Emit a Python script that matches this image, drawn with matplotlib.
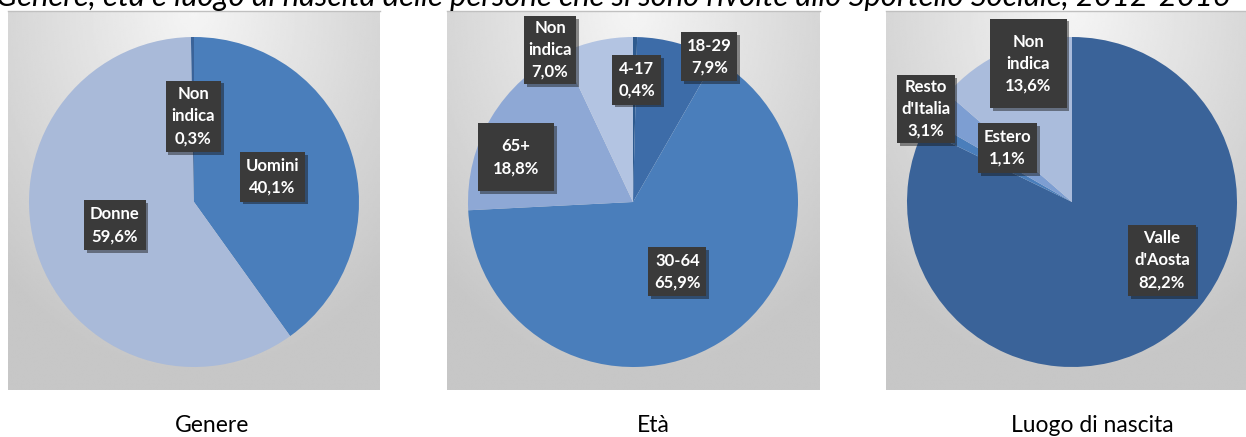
import numpy as np
import matplotlib
matplotlib.use('Agg')
import matplotlib.pyplot as plt
import matplotlib.patheffects as pe

plt.rcParams['font.family'] = ['Lato', 'DejaVu Sans']

# data
title = 'Genere, età e luogo di nascita delle persone che si sono rivolte allo Sportello Sociale, 2012-2016'

genere_labels = ['Uomini', 'Donne', 'Non\nindica']
genere_values = [40.1, 59.6, 0.3]

eta_labels = ['4-17', '18-29', '30-64', '65+', 'Non\nindica']
eta_values = [0.4, 7.9, 65.9, 18.8, 7.0]

luogo_labels = ["Valle\nd'Aosta", 'Estero', "Resto\nd'Italia", 'Non\nindica']
luogo_values = [82.2, 1.1, 3.1, 13.6]

subtitles = ['Genere', 'Età', 'Luogo di nascita']

# styles / layout (pixel coords, y from top)
W, H = 1246, 437
R = 165
centers = [(194, 202), (633, 202), (1072, 202)]
panels = [(8, 380), (447, 820), (886, 1259)]
panel_y = (11, 390)
sub_x = [212, 653, 1092]

colors = [
    ['#4a7ebb', '#a9bad9', '#3a6399'],
    ['#2e5a8e', '#3d6ca8', '#4a7ebb', '#8ea8d5', '#b3c4e2'],
    ['#3a6399', '#4a7ebb', '#7d9ed2', '#aabcdc'],
]
# label placement: (fraction of radius, angle nudge in degrees, box pad)
label_pos = [
    [(0.50, 0, 0.35), (0.50, -2, 0.35), (0.52, 0, 0.35)],
    [(0.74, -1, 0.35), (0.995, -12, 0.35), (0.50, 1, 0.35), (0.76, 10, 0.9), (1.05, 16, 0.25)],
    [(0.65, 25, 0.35), (0.51, -12, 0.35), (1.05, 3, 0.25), (0.88, -7, 0.9)],
]

fig = plt.figure(figsize=(W / 100, H / 100), dpi=100)
ax = fig.add_axes([0, 0, 1, 1])

# panel backgrounds with radial gradient
for (x0, x1) in panels:
    y0, y1 = panel_y
    xx, yy = np.meshgrid(np.linspace(0, 1, 200), np.linspace(0, 1, 200))
    d = np.sqrt(((xx - 0.5) / 0.75) ** 2 + (yy / 0.95) ** 2)
    v = 0.96 - 0.18 * np.clip(d, 0, 1)
    ax.imshow(v, cmap='gray', vmin=0, vmax=1, extent=(x0, x1, H - y1, H - y0),
              origin='upper', zorder=0, interpolation='bilinear')
    ax.plot([x0, x1], [H - y0, H - y0], color='#c0c0c0', lw=1, zorder=1)

all_values = [genere_values, eta_values, luogo_values]
all_labels = [genere_labels, eta_labels, luogo_labels]

for i, (vals, labs) in enumerate(zip(all_values, all_labels)):
    cx, cy = centers[i]
    wedges, _ = ax.pie(vals, colors=colors[i], startangle=90, counterclock=False,
                       center=(cx, H - cy), radius=R,
                       wedgeprops=dict(linewidth=0), normalize=True)
    for w_ in wedges:
        w_.set_zorder(2)
    for j, (wd, lab) in enumerate(zip(wedges, labs)):
        frac, dang, pad = label_pos[i][j]
        mid = np.deg2rad((wd.theta1 + wd.theta2) / 2 + dang)
        lx = cx + frac * R * np.cos(mid)
        ly = H - cy + frac * R * np.sin(mid)
        txt = f'{lab}\n{vals[j]:.1f}%'.replace('.', ',')
        t = ax.text(lx, ly, txt, ha='center', va='center', color='white',
                    fontsize=12, fontweight='bold', linespacing=1.45, zorder=5,
                    bbox=dict(boxstyle=f'square,pad={pad}', fc='#3a3a3a', ec='none'))
        t.get_bbox_patch().set_path_effects(
            [pe.SimplePatchShadow(offset=(2, -2), alpha=0.45), pe.Normal()])

    ax.text(sub_x[i], H - 426, subtitles[i], ha='center', va='center',
            fontsize=16.5, color='black')

ax.text(-4, H - 6, title, ha='left', va='baseline', fontsize=22.3,
        style='italic', color='black')

ax.set_xlim(0, W)
ax.set_ylim(0, H)
ax.set_aspect('auto')
ax.axis('off')

fig.savefig('out.png', dpi=100)
